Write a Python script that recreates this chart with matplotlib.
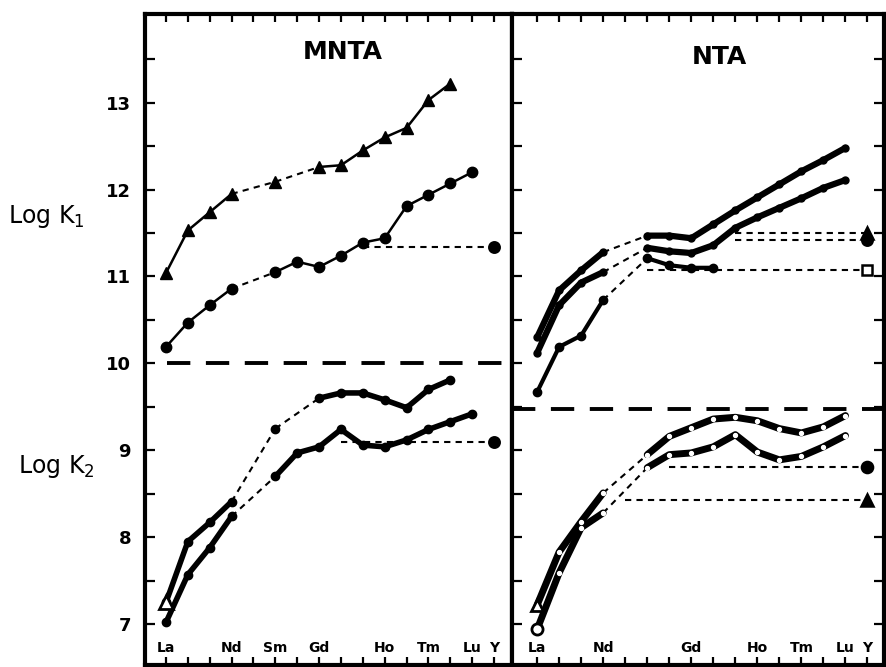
import numpy as np
import matplotlib.pyplot as plt

elements = ['La', 'Ce', 'Pr', 'Nd', 'Pm', 'Sm', 'Eu', 'Gd', 'Tb', 'Dy',
            'Ho', 'Er', 'Tm', 'Yb', 'Lu', 'Y']
labels_left = ['La', 'Nd', 'Sm', 'Gd', 'Ho', 'Tm', 'Lu', 'Y']
labels_right = ['La', 'Nd', 'Gd', 'Ho', 'Tm', 'Lu', 'Y']

# MNTA, log K1
mnta_k1_tri_x = [0, 1, 2, 3, 5, 7, 8, 9, 10, 11, 12, 13]
mnta_k1_tri = [11.04, 11.53, 11.74, 11.95, 12.09, 12.26, 12.28, 12.45, 12.60, 12.71, 13.03, 13.22]
mnta_k1_cir_x = [0, 1, 2, 3, 5, 6, 7, 8, 9, 10, 11, 12, 13, 14]
mnta_k1_cir = [10.19, 10.47, 10.67, 10.86, 11.05, 11.17, 11.11, 11.24, 11.39, 11.44, 11.81, 11.94, 12.07, 12.20]
mnta_k1_cir_y = 11.34

# MNTA, log K2
mnta_k2_tri_x = [0, 1, 2, 3, 5, 7, 8, 9, 10, 11, 12, 13]
mnta_k2_tri = [7.25, 7.95, 8.17, 8.41, 9.25, 9.60, 9.66, 9.66, 9.58, 9.49, 9.70, 9.81]
mnta_k2_cir_x = [0, 1, 2, 3, 5, 6, 7, 8, 9, 10, 11, 12, 13, 14]
mnta_k2_cir = [7.02, 7.57, 7.88, 8.24, 8.70, 8.97, 9.04, 9.24, 9.06, 9.04, 9.12, 9.24, 9.33, 9.42]
mnta_k2_cir_y = 9.10

# NTA, log K1
nta_k1_x = [0, 1, 2, 3, 5, 6, 7, 8, 9, 10, 11, 12, 13, 14]
nta_k1_a = [10.30, 10.84, 11.07, 11.28, 11.47, 11.47, 11.44, 11.60, 11.76, 11.91, 12.06, 12.21, 12.34, 12.48]
nta_k1_b = [10.12, 10.67, 10.93, 11.05, 11.33, 11.29, 11.27, 11.36, 11.56, 11.68, 11.79, 11.90, 12.02, 12.11]
nta_k1_c_x = [0, 1, 2, 3, 5, 6, 7, 8]
nta_k1_c = [9.67, 10.19, 10.32, 10.73, 11.21, 11.13, 11.10, 11.10]
nta_k1_y = [11.50, 11.42, 11.07]

# NTA, log K2
nta_k2_x = [0, 1, 2, 3, 5, 6, 7, 8, 9, 10, 11, 12, 13, 14]
nta_k2_a = [7.22, 7.83, 8.18, 8.51, 8.95, 9.16, 9.26, 9.36, 9.38, 9.34, 9.25, 9.20, 9.27, 9.40]
nta_k2_b = [6.94, 7.59, 8.11, 8.28, 8.80, 8.95, 8.97, 9.04, 9.18, 8.98, 8.89, 8.93, 9.04, 9.17]
nta_k2_y = [8.43, 8.81]

DASH = (0, (3, 2.5))


def series(ax, xs, ys, lw, marker, ms, mfc='k', dots=False):
    runs = [[0]]
    for i in range(1, len(xs)):
        if xs[i] - xs[i - 1] == 1:
            runs[-1].append(i)
        else:
            ax.plot([xs[i - 1], xs[i]], [ys[i - 1], ys[i]], color='k', lw=1.5, ls=DASH)
            runs.append([i])
    for r in runs:
        ax.plot([xs[j] for j in r], [ys[j] for j in r], color='k', lw=lw,
                solid_capstyle='round', solid_joinstyle='round',
                marker=marker, ms=ms, mfc=mfc, mec='k', zorder=3)
        if dots:
            ax.plot([xs[j] for j in r], [ys[j] for j in r], ls='none',
                    marker='o', ms=2.8, mfc='white', mec='white', zorder=4)


def y_point(ax, x0, val, marker, ms, mfc='k'):
    ax.plot([x0, 15], [val, val], color='k', lw=1.5, ls=DASH)
    ax.plot([15], [val], marker=marker, ms=ms, mfc=mfc, mec='k', mew=1.8, color='k')


fig = plt.figure(figsize=(8.86, 6.67), dpi=100)
ax1 = fig.add_axes([145 / 886, 2 / 667, 367 / 886, 651 / 667])
ax2 = fig.add_axes([512 / 886, 2 / 667, 372 / 886, 651 / 667])
ax1.set_xlim(-0.96, 15.82)
ax2.set_xlim(-1.14, 15.75)

for ax in (ax1, ax2):
    ax.set_ylim(6.53, 14.02)
    for s in ax.spines.values():
        s.set_linewidth(3)
    ax.set_xticks(range(16))
    ax.set_xticklabels([])
    ax.set_yticks(np.arange(7, 14, 1.0))
    ax.set_yticks(np.arange(7.5, 14, 1.0), minor=True)
    ax.tick_params(axis='x', which='both', direction='in', top=True, bottom=True,
                   length=6, width=1.6)
    ax.tick_params(axis='y', which='both', direction='in', length=7, width=1.6)

ax1.set_yticklabels([str(v) for v in range(7, 14)], fontsize=13, fontweight='bold')
ax1.tick_params(axis='y', which='both', pad=10)
ax2.tick_params(axis='y', which='both', left=True, right=True, labelleft=False)

for name in labels_left:
    ax1.text(elements.index(name), 6.72, name, ha='center', va='center',
             fontsize=10, fontweight='bold')
for name in labels_right:
    ax2.text(elements.index(name), 6.72, name, ha='center', va='center',
             fontsize=10, fontweight='bold')

ax1.text(8.1, 13.58, 'MNTA', ha='center', va='center', fontsize=18, fontweight='bold')
ax2.text(8.27, 13.53, 'NTA', ha='center', va='center', fontsize=18, fontweight='bold')

# K1 / K2 separators
ax1.axhline(10.0, color='k', lw=2.8, ls=(0, (6, 4)), xmin=0.06)
ax2.axhline(9.47, color='k', lw=2.8, ls=(0, (6, 4)))

# MNTA
series(ax1, mnta_k1_tri_x, mnta_k1_tri, 1.8, '^', 9)
series(ax1, mnta_k1_cir_x, mnta_k1_cir, 1.8, 'o', 7.5)
y_point(ax1, 9, mnta_k1_cir_y, 'o', 7.5)
series(ax1, mnta_k2_tri_x, mnta_k2_tri, 4, 'o', 6)
series(ax1, mnta_k2_cir_x, mnta_k2_cir, 4, 'o', 6)
ax1.plot(mnta_k2_tri_x[:1], mnta_k2_tri[:1], marker='^', ms=10, mfc='white',
         mec='k', mew=2, zorder=5)
y_point(ax1, 8, mnta_k2_cir_y, 'o', 7.5)

# NTA
series(ax2, nta_k1_x, nta_k1_a, 4.5, 'o', 5)
series(ax2, nta_k1_x, nta_k1_b, 4.5, 'o', 5)
series(ax2, nta_k1_c_x, nta_k1_c, 3, 'o', 6)
y_point(ax2, 9, nta_k1_y[0], '^', 8)
y_point(ax2, 9, nta_k1_y[1], 'o', 7.5)
y_point(ax2, 5, nta_k1_y[2], 's', 6.5, mfc='white')
series(ax2, nta_k2_x, nta_k2_a, 5, None, 0, dots=True)
series(ax2, nta_k2_x, nta_k2_b, 5, None, 0, dots=True)
ax2.plot(nta_k2_x[:1], nta_k2_a[:1], marker='^', ms=9, mfc='white', mec='k',
         mew=2, zorder=5)
ax2.plot(nta_k2_x[:1], nta_k2_b[:1], marker='o', ms=8, mfc='white', mec='k',
         mew=2, zorder=5)
y_point(ax2, 4, nta_k2_y[0], '^', 8)
y_point(ax2, 6, nta_k2_y[1], 'o', 8)

fig.text(8 / 886, 1 - 216 / 667, 'Log K$_1$', ha='left', va='center', fontsize=17)
fig.text(18 / 886, 1 - 467 / 667, 'Log K$_2$', ha='left', va='center', fontsize=17)

fig.savefig('out.png', dpi=100)
